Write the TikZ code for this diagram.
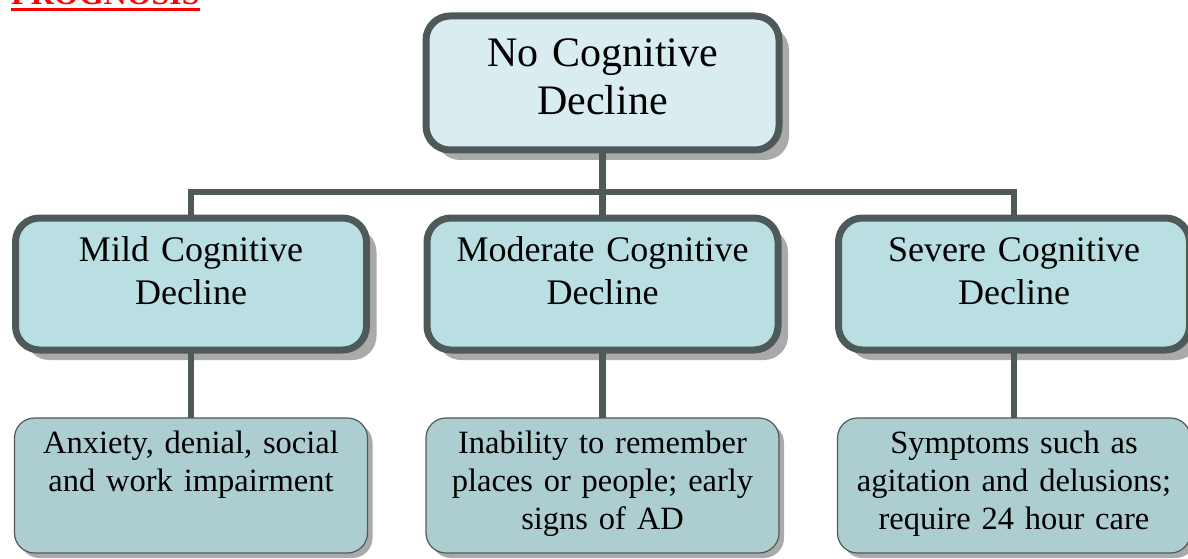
\documentclass[tikz,border=0pt]{standalone}
\usepackage{fontspec}
\setmainfont{Liberation Serif}
\usetikzlibrary{positioning,shadows}

\definecolor{boxline}{RGB}{78,90,90}
\definecolor{topfill}{RGB}{217,236,240}
\definecolor{midfill}{RGB}{186,223,227}
\definecolor{lowfill}{RGB}{172,206,209}
\definecolor{shade}{RGB}{170,170,170}

\begin{document}
\begin{tikzpicture}[x=1pt, y=1pt, node distance=68pt]
    \tikzstyle{level}=[draw=boxline, line width=7pt, rounded corners=24pt,
                       outer sep=0pt, inner sep=4pt, align=center, text width=340pt,
                       drop shadow={shadow xshift=10pt, shadow yshift=-10pt,
                                    fill=shade, opacity=1}]
    \tikzstyle{head}=[level, fill=topfill, minimum width=353pt, minimum height=134pt,
                      font=\fontsize{42}{48}\selectfont, text height=30pt, text depth=62pt]
    \tikzstyle{stage}=[level, fill=midfill, minimum width=351pt, minimum height=132pt,
                       font=\fontsize{36}{43}\selectfont, text height=25pt, text depth=70pt]
    \tikzstyle{note}=[draw=boxline, line width=1.2pt, rounded corners=20pt, fill=lowfill,
                      outer sep=0pt, inner sep=4pt, align=center, text width=340pt,
                      minimum width=353pt, minimum height=135pt,
                      font=\fontsize{32.5}{38}\selectfont, text height=24pt, text depth=88pt,
                      drop shadow={shadow xshift=5pt, shadow yshift=-5pt,
                                   fill=shade, opacity=1}]
    \tikzstyle{link}=[draw=boxline, line width=6.5pt]

    \useasboundingbox (0,0) rectangle (1188,558);
    \fill[white] (0,0) rectangle (1188,558);
    \clip (0,0) rectangle (1188,558);

    % heading, cut off at the top of the page
    \node[text=red, inner sep=0pt, anchor=base west,
          font=\fontsize{32}{36}\selectfont\bfseries] (prog) at (11,553) {PROGNOSIS};
    \draw[red, line width=3.5pt] ([yshift=-4.5pt]prog.base west) -- ([yshift=-4.5pt]prog.base east);

    \node[head]  (no)                       at (602.5,475)  {No Cognitive\\Decline};
    \node[stage] (mod)      [below=of no]                   {Moderate Cognitive\\Decline};
    \node[stage] (mild)     [left=60.5pt of mod]            {Mild Cognitive\\Decline};
    \node[stage] (sev)      [right=60.5pt of mod]           {Severe Cognitive\\Decline};

    \node[note]  (mildnote) [below=of mild]  {Anxiety, denial, social\\and work impairment};
    \node[note]  (modnote)  [below=of mod]   {Inability to remember\\places or people; early\\signs of AD};
    \node[note]  (sevnote)  [below=of sev]   {Symptoms such as\\agitation and delusions;\\require 24 hour care};

    \path (no.south) ++(0,-42) coordinate (split);
    \draw[link] (no.south) -- (mod.north);
    \draw[link] (mild.north) |- (split) -| (sev.north);
    \draw[link] (mild.south) -- (mildnote.north);
    \draw[link] (mod.south) -- (modnote.north);
    \draw[link] (sev.south) -- (sevnote.north);
\end{tikzpicture}
\end{document}
